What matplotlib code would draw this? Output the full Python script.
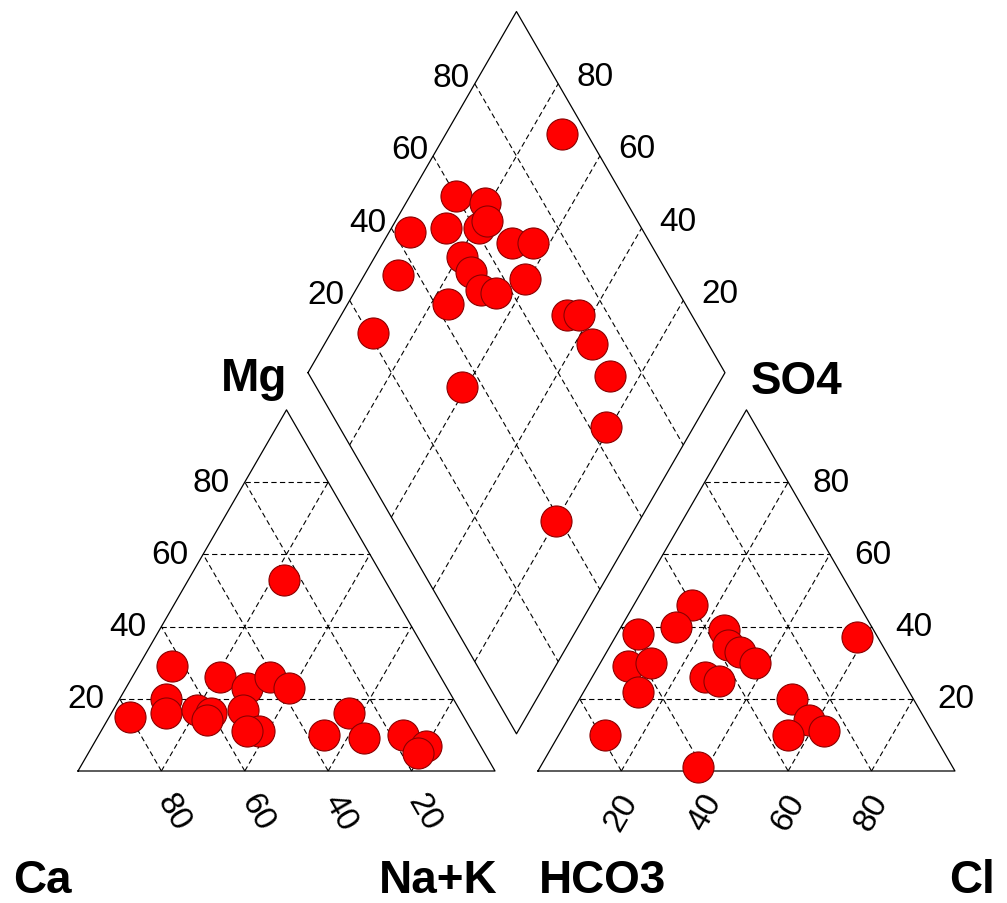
import numpy as np
import matplotlib
matplotlib.use('Agg')
import matplotlib.pyplot as plt

plt.rcParams['font.family'] = ['Liberation Sans', 'DejaVu Sans']
plt.rcParams['lines.scale_dashes'] = False

# cations, % meq
ca = [24, 63, 53, 80, 69, 71, 63, 60, 62, 48, 41, 38, 52, 51, 54, 36, 27, 27, 17, 13, 16]
mg = [53, 29, 26, 15, 20, 16, 17, 16, 14, 23, 26, 23, 17, 11, 11, 10, 16, 9, 10, 7, 5]
na_k = [23, 8, 21, 5, 11, 13, 20, 24, 24, 29, 33, 39, 31, 38, 35, 54, 57, 64, 73, 80, 79]

# anions, % meq
hco3 = [40, 47, 57, 64, 58, 65, 79, 61, 36, 37, 35, 33, 47, 44, 5, 29, 28, 35, 26]
so4 = [46, 40, 38, 29, 30, 22, 10, 1, 39, 35, 33, 30, 26, 25, 37, 20, 14, 10, 11]
cl = [14, 13, 5, 7, 12, 13, 11, 38, 25, 28, 32, 37, 27, 31, 58, 51, 58, 55, 63]

# diamond (Na+K, SO4+Cl)
dia_nak = [11, 19, 5, 13, 21, 22, 31, 36, 8, 21, 25, 30, 34, 39, 24, 10, 28, 54, 57, 64, 73, 79, 80, 39]
dia_so4cl = [60, 66, 44, 53, 61, 64, 67, 72, 35, 53, 53, 53, 56, 65, 43, 21, 94, 70, 73, 72, 72, 64, 39, 35]

ticks = [20, 40, 60, 80]

GAP = 10.3
H = np.sqrt(3) / 2
PX = 4.17  # pixels per unit
X2 = 100 + GAP  # left corner of anion triangle


def tri(right, top, x0):
    right = np.asarray(right, float)
    top = np.asarray(top, float)
    return x0 + right + top / 2, top * H


def dia(nak, a):
    nak = np.asarray(nak, float) / 100
    a = np.asarray(a, float) / 100
    lx, ly = 50 + GAP / 2, 100 * H + GAP * H
    return lx + 50 * nak + 50 * a, ly - 100 * H * nak + 100 * H * a


fig = plt.figure(figsize=(10.07, 9.04), dpi=100)
ax = fig.add_axes([0, 0, 1, 1])
ax.set_xlim(-78 / PX, (1007 - 78) / PX)
ax.set_ylim(-(904 - 772) / PX, 772 / PX)
ax.axis('off')

dash = dict(color='black', lw=0.8, ls=(0, (3.8, 2.4)), zorder=1)
solid = dict(color='black', lw=0.9, zorder=2)

# triangles
for x0 in (0, X2):
    xs, ys = tri([0, 100, 0, 0], [0, 0, 100, 0], x0)
    ax.plot(xs, ys, **solid)
    for t in ticks:
        for r, tp in (([0, 100 - t], [t, t]), ([t, t], [0, 100 - t]), ([100 - t, 0], [0, 100 - t])):
            gx, gy = tri(r, tp, x0)
            ax.plot(gx, gy, **dash)

# diamond
xs, ys = dia([0, 100, 100, 0, 0], [0, 0, 100, 100, 0])
ax.plot(xs, ys, **solid)
for t in ticks:
    gx, gy = dia([0, 100], [t, t])
    ax.plot(gx, gy, **dash)
    gx, gy = dia([t, t], [0, 100])
    ax.plot(gx, gy, **dash)

# tick labels
fs = 24
for t in ticks:
    x, y = tri(0, t, 0)
    ax.text(x - 15 / PX, y, str(t), fontsize=fs, ha='right', va='center')
    x, y = tri(100 - t, t, X2)
    ax.text(x + 24 / PX, y, str(t), fontsize=fs, ha='left', va='center')
    x, y = tri(100 - t, 0, 0)
    ax.text(x + 12 / PX, y - 41 / PX, str(t), fontsize=fs, ha='center', va='center', rotation=-60)
    x, y = tri(t, 0, X2)
    ax.text(x + 0 / PX, y - 41 / PX, str(t), fontsize=fs, ha='center', va='center', rotation=60)
    x, y = dia(0, t)
    ax.text(x - 5 / PX, y + 6 / PX, str(t), fontsize=fs, ha='right', va='center')
    x, y = dia(100 - t, 100)
    ax.text(x + 18 / PX, y + 7 / PX, str(t), fontsize=fs, ha='left', va='center')

# axis names
bf = dict(fontweight='bold', va='baseline')
ax.text(50 + 1 / PX, 100 * H + 20 / PX, 'Mg', fontsize=33, ha='right', **bf)
ax.text(X2 + 50 + 4 / PX, 100 * H + 17 / PX, 'SO4', fontsize=33, ha='left', **bf)
yb = -121 / PX
ax.text(-65 / PX, yb, 'Ca', fontsize=33, ha='left', **bf)
ax.text(100 + 2 / PX, yb, 'Na+K', fontsize=33, ha='right', **bf)
ax.text(X2 + 1 / PX, yb, 'HCO3', fontsize=33, ha='left', **bf)
ax.text(X2 + 100 + 40 / PX, yb, 'Cl', fontsize=33, ha='right', **bf)

# samples
mk = dict(s=500, c='#ff0000', edgecolors='#8b0000', linewidths=0.8, zorder=3, clip_on=False)
tot = np.add(np.add(ca, mg), na_k)
px, py = tri(100 * np.divide(na_k, tot), 100 * np.divide(mg, tot), 0)
ax.scatter(px, py, **mk)
tot = np.add(np.add(hco3, so4), cl)
px, py = tri(100 * np.divide(cl, tot), 100 * np.divide(so4, tot), X2)
ax.scatter(px, py, **mk)
px, py = dia(dia_nak, dia_so4cl)
ax.scatter(px, py, **mk)

fig.savefig('out.png', dpi=100)
